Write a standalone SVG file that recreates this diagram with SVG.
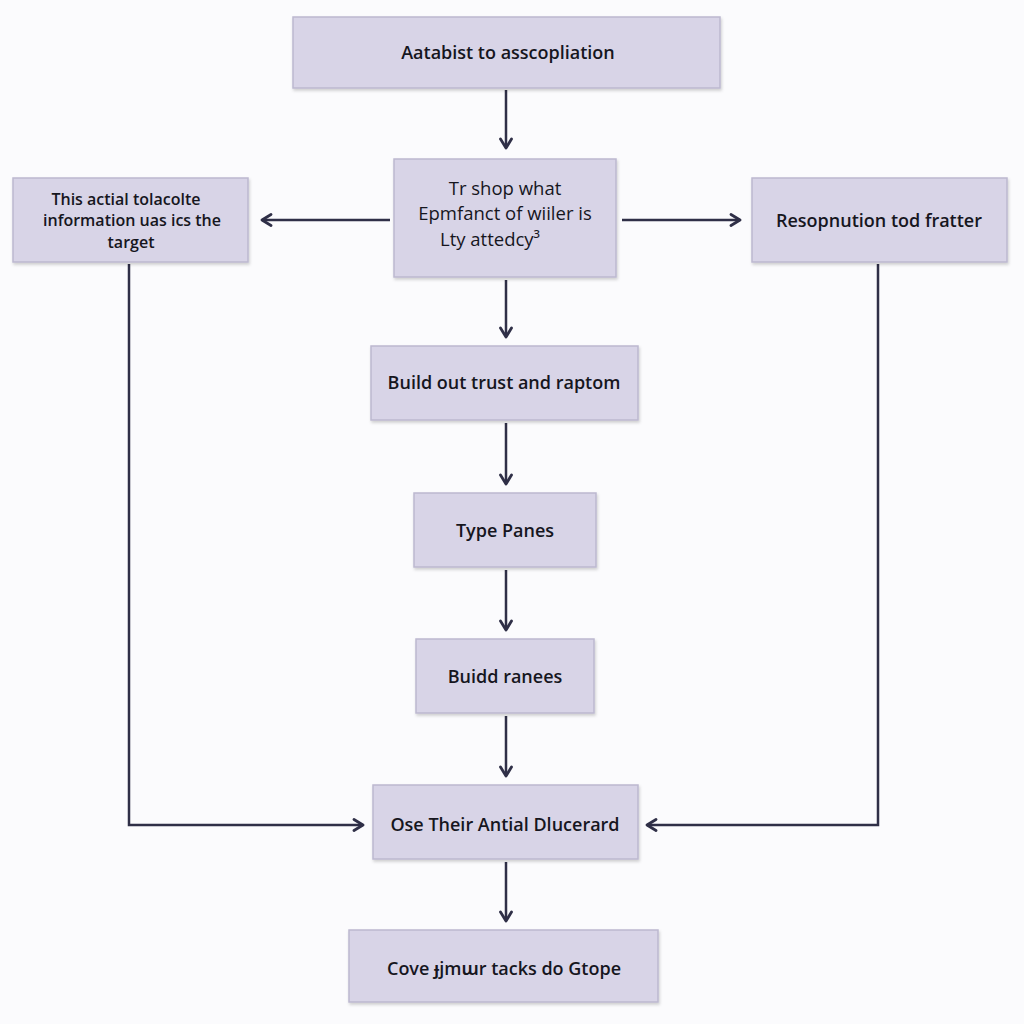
<svg xmlns="http://www.w3.org/2000/svg" width="1024" height="1024" viewBox="0 0 1024 1024">
<defs>
<style>
.box{fill:#d8d4e7;stroke:#bcb8cf;stroke-width:1.5;filter:url(#sh)}
.t{font-family:"Open Sans","Noto Sans","Liberation Sans",sans-serif;font-size:18px;font-weight:600;fill:#16161e;text-anchor:middle}
.ts{font-size:16px}
.tc{font-family:"Open Sans","Noto Sans","Liberation Sans",sans-serif;font-size:18.5px;font-weight:400;fill:#16161e;text-anchor:middle}
.c{fill:none;stroke:#2f2f47;stroke-width:2.5}
</style>
<filter id="sh" x="-10%" y="-10%" width="120%" height="130%">
<feDropShadow dx="1" dy="2" stdDeviation="1.5" flood-color="#000" flood-opacity="0.18"/>
</filter>
<marker id="a" viewBox="0 0 14 14" refX="11" refY="7" markerWidth="14" markerHeight="14" markerUnits="userSpaceOnUse" orient="auto">
<path d="M2,1.5 L11,7 L2,12.5" fill="none" stroke="#2f2f47" stroke-width="2.8" stroke-linecap="round" stroke-linejoin="round"/>
</marker>
</defs>
<rect width="1024" height="1024" fill="#fbfbfd"/>
<g id="connectors">
<path class="c" d="M506,90 V148" marker-end="url(#a)"/>
<path class="c" d="M506,280 V337" marker-end="url(#a)"/>
<path class="c" d="M506,423 V484" marker-end="url(#a)"/>
<path class="c" d="M506,570 V630" marker-end="url(#a)"/>
<path class="c" d="M506,716 V776" marker-end="url(#a)"/>
<path class="c" d="M506,862 V921" marker-end="url(#a)"/>
<path class="c" d="M390,220 H262" marker-end="url(#a)"/>
<path class="c" d="M622,220 H740" marker-end="url(#a)"/>
<path class="c" d="M129,264 V825 H363" marker-end="url(#a)"/>
<path class="c" d="M878,264 V825 H647" marker-end="url(#a)"/>
</g>
<g id="n1"><rect class="box" x="293" y="17" width="427" height="71"/><text class="t" x="508" y="59">Aatabist to asscopliation</text></g>
<g id="n2"><rect class="box" x="394" y="159" width="222" height="118"/>
<text class="tc" x="505" y="195">Tr shop what</text>
<text class="tc" x="505" y="220">Epmfanct of wiiler is</text>
<text class="tc" x="490" y="246">Lty attedcy³</text></g>
<g id="n3"><rect class="box" x="13" y="178" width="235" height="84"/>
<text class="t ts" x="126" y="205">This actial tolacolte</text>
<text class="t ts" x="132" y="226">information uas ics the</text>
<text class="t ts" x="131" y="248">target</text></g>
<g id="n4"><rect class="box" x="752" y="178" width="255" height="84"/><text class="t" x="879" y="227">Resopnution tod fratter</text></g>
<g id="n5"><rect class="box" x="371" y="346" width="267" height="74"/><text class="t" x="504" y="389">Build out trust and raptom</text></g>
<g id="n6"><rect class="box" x="414" y="493" width="182" height="74"/><text class="t" x="505" y="537">Type Panes</text></g>
<g id="n7"><rect class="box" x="416" y="639" width="178" height="74"/><text class="t" x="505" y="683">Buidd ranees</text></g>
<g id="n8"><rect class="box" x="373" y="785" width="265" height="74"/><text class="t" x="505" y="831">Ose Their Antial Dlucerard</text></g>
<g id="n9"><rect class="box" x="349" y="930" width="309" height="72"/><text class="t" x="504" y="975">Cove ɟjmɯr tacks do Gtope</text></g>
</svg>
